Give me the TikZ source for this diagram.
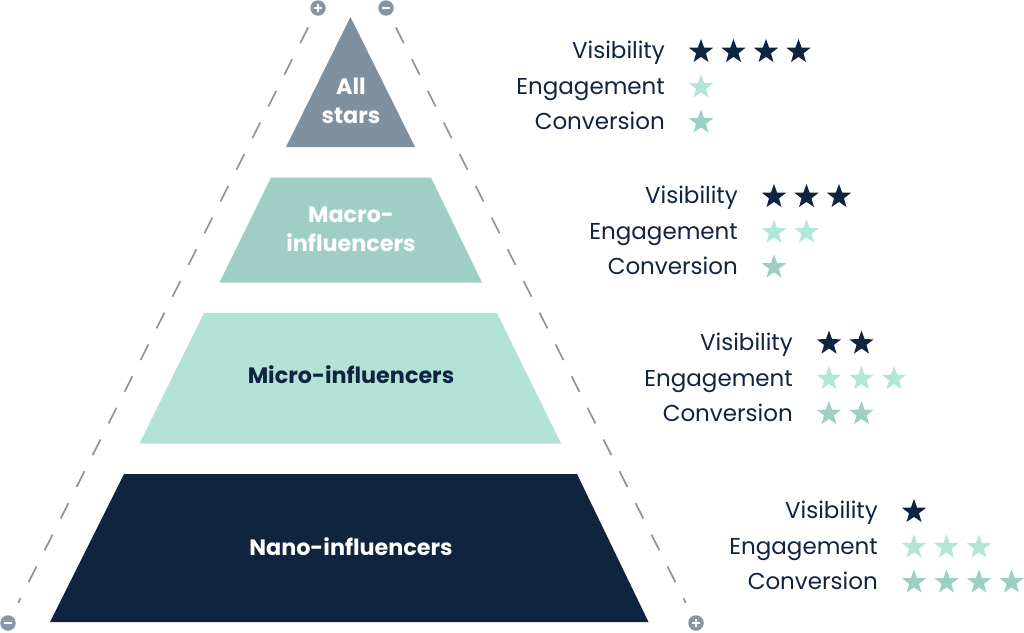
\documentclass[tikz,border=0pt]{standalone}
\usepackage{fontspec}
\setmainfont{Poppins}
\usetikzlibrary{shapes.geometric}
\definecolor{navy}{HTML}{10233F}
\definecolor{topgray}{HTML}{7F909E}
\definecolor{dotgray}{HTML}{8796A5}
\definecolor{macrofill}{HTML}{9FCFC4}
\definecolor{microfill}{HTML}{B3E3D7}
\definecolor{engstar}{HTML}{B3E6D9}
\definecolor{convstar}{HTML}{9DD0C4}
\tikzset{
  lbl/.style={anchor=base east, inner sep=0pt, text=navy, font=\fontsize{23}{28}\selectfont},
  tierlbl/.style={inner sep=0pt, align=center, font=\fontsize{22.3}{28.5}\selectfont\bfseries},
  starbase/.style={star, star points=5, star point ratio=2.45, minimum size=25.5pt, inner sep=0pt, draw=none},
  starv/.style={starbase, fill=navy},
  stare/.style={starbase, fill=engstar},
  starc/.style={starbase, fill=convstar},
  dot/.style={circle, fill=dotgray, minimum size=15.5pt, inner sep=0pt, outer sep=0pt},
  sign/.style={white, line width=1.9pt},
  dashline/.style={dotgray, line width=1.7pt, dash pattern=on 17.5pt off 18pt, shorten <=14pt, shorten >=15pt}
}
\begin{document}
\begin{tikzpicture}[x=1pt,y=-1pt]
\useasboundingbox (0,0) rectangle (1024,632);
% tiers
\fill[topgray] (350.5,17) -- (415,147) -- (286,147) -- cycle;
\fill[macrofill] (271,177.5) -- (431,177.5) -- (482,282.5) -- (219.5,282.5) -- cycle;
\fill[microfill] (204,313) -- (497,313) -- (561,443.5) -- (139.5,443.5) -- cycle;
\fill[navy] (124,474) -- (577,474) -- (648.5,622) -- (50,622) -- cycle;
\node[tierlbl, text=white] (allstars) at (351,101) {All\\stars};
\node[tierlbl, text=white] (macro) at (351,229.5) {Macro-\\influencers};
\node[tierlbl, text=navy, anchor=base] (micro) at (351,383.5) {Micro-influencers};
\node[tierlbl, text=white, anchor=base] (nano) at (351,555) {Nano-influencers};
% markers
\node[dot] (tl) at (318,8) {};
\node[dot] (tr) at (386,8) {};
\node[dot] (bl) at (8,623) {};
\node[dot] (br) at (696,623) {};
\draw[sign] ([xshift=-3.6pt]tl.center) -- ([xshift=3.6pt]tl.center);
\draw[sign] ([yshift=-3.6pt]tl.center) -- ([yshift=3.6pt]tl.center);
\draw[sign] ([xshift=-3.6pt]tr.center) -- ([xshift=3.6pt]tr.center);
\draw[sign] ([xshift=-3.6pt]bl.center) -- ([xshift=3.6pt]bl.center);
\draw[sign] ([xshift=-3.6pt]br.center) -- ([xshift=3.6pt]br.center);
\draw[sign] ([yshift=-3.6pt]br.center) -- ([yshift=3.6pt]br.center);
\draw[dashline] (tl) -- (bl);
\draw[dashline] (tr) -- (br);
% ratings
\foreach \g/\tx/\ty/\nv/\ne/\nc in {1/665/51.7/4/1/1, 2/738/196.7/3/2/1, 3/793/343.3/2/3/2, 4/878/511.7/1/3/4} {
  \node[lbl] (vis\g) at (\tx,\ty+7.2) {Visibility};
  \node[lbl] (eng\g) at (\tx,\ty+35.5+7.2) {Engagement};
  \node[lbl] (con\g) at (\tx,\ty+70.5+7.2) {Conversion};
  \foreach \i in {1,...,\nv} \node[starv] (vis\g s\i) at (\tx+36+32.5*\i-32.5,\ty) {};
  \foreach \i in {1,...,\ne} \node[stare] (eng\g s\i) at (\tx+36+32.5*\i-32.5,\ty+35.5) {};
  \foreach \i in {1,...,\nc} \node[starc] (con\g s\i) at (\tx+36+32.5*\i-32.5,\ty+70.5) {};
}
\end{tikzpicture}
\end{document}
